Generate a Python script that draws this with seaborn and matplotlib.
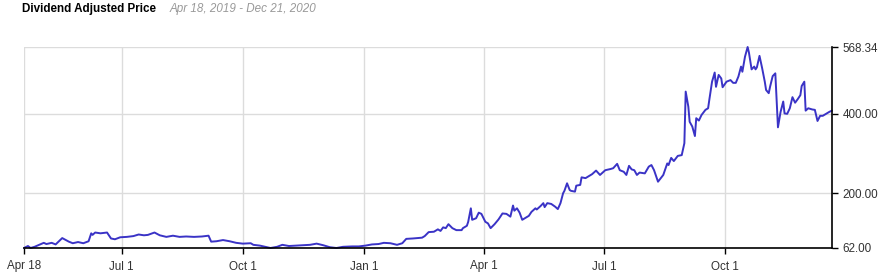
import matplotlib
matplotlib.use("Agg")
import matplotlib.pyplot as plt
import seaborn as sns
import pandas as pd
import numpy as np

# days since Apr 18, 2019 and the dividend adjusted price
days = [0, 3, 5, 8, 15, 17, 21, 24, 29, 34, 37, 41, 45, 49, 51, 52, 54, 58, 63, 66, 69, 73, 78, 83, 87, 91, 94, 99,
        103, 108, 113, 118, 123, 129, 135, 140, 142, 146, 151, 156, 161, 166, 172, 174, 179, 187, 192, 196, 201, 206,
        212, 217, 222, 227, 232, 237, 242, 249, 254, 259, 264, 269, 273, 278, 283, 287, 290, 295, 302, 304, 307, 311,
        314, 316, 318, 320, 322, 325, 328, 332, 333, 336, 337, 339, 340, 343, 345, 347, 350, 352, 354, 357, 360, 363,
        366, 369, 371, 372, 374, 376, 378, 383, 385, 388, 389, 392, 394, 395, 397, 400, 403, 405, 407, 409, 410, 412,
        414, 415, 418, 419, 422, 423, 426, 429, 431, 434, 437, 441, 445, 447, 450, 452, 455, 457, 459, 461, 463, 465,
        467, 471, 474, 476, 478, 481, 485, 488, 489, 491, 493, 496, 499, 501, 502, 504, 505, 507, 509, 510, 512, 514,
        517, 519, 520, 522, 524, 525, 527, 529, 530, 533, 536, 538, 540, 542, 544, 545, 547, 549, 550, 552, 554, 555,
        556, 558, 560, 562, 563, 565, 566, 568, 570, 571, 572, 574, 576, 577, 579, 581, 583, 585, 587, 589, 590, 592,
        593, 595, 598, 600, 602, 604, 606, 609, 611, 613]
prices = [62, 67, 62, 65, 75, 72, 75, 71, 87, 78, 74, 77, 74, 79, 99, 95, 101, 99, 101, 86, 84, 89, 90, 92, 96, 94, 95, 101,
          94, 90, 93, 90, 91, 90, 91, 93, 78, 79, 82, 79, 75, 73, 74, 70, 68, 62, 65, 70, 67, 68,
          69, 70, 73, 69, 64, 62, 65, 66, 66, 68, 71, 72, 75, 74, 70, 74, 85, 86, 88, 92, 102, 103,
          109, 105, 114, 112, 122, 112, 107, 107, 112, 118, 128, 162, 133, 137, 151, 148, 128, 124, 112, 122, 134, 149,
          148, 141, 169, 156, 162, 151, 133, 143, 153, 162, 159, 168, 175, 165, 175, 173, 166, 160, 175, 200, 206, 225,
          208, 206, 204, 219, 221, 240, 238, 244, 248, 257, 246, 258, 261, 263, 274, 258, 254, 246, 269, 260, 258, 246,
          252, 250, 267, 271, 258, 229, 246, 275, 271, 289, 281, 294, 296, 326, 456, 418, 380, 368, 344, 389, 383, 397,
          410, 414, 437, 481, 504, 468, 498, 489, 467, 481, 485, 478, 478, 494, 519, 506, 544, 568.34, 554, 512, 519, 512,
          517, 546, 515, 481, 460, 452, 468, 495, 502, 435, 366, 405, 431, 401, 400, 414, 442, 428, 437, 447, 470, 481,
          408, 414, 411, 410, 382, 395, 395, 401, 405, 408]

start_date = "2019-04-18"
end_date = "2020-12-21"
x_tick_dates = ["2019-04-18", "2019-07-01", "2019-10-01", "2020-01-01", "2020-04-01", "2020-07-01", "2020-10-01"]
x_tick_labels = ["Apr 18", "Jul 1", "Oct 1", "Jan 1", "Apr 1", "Jul 1", "Oct 1"]
y_ticks = [62, 200, 400, 568.34]
y_tick_labels = ["62.00", "200.00", "400.00", "568.34"]
title = "Dividend Adjusted Price"
subtitle = "Apr 18, 2019 - Dec 21, 2020"

df = pd.DataFrame({
    "date": pd.to_datetime(start_date) + pd.to_timedelta(days, unit="D"),
    "price": prices,
})

sns.set_style("white")
plt.rcParams["font.family"] = ["Liberation Sans", "DejaVu Sans"]

fig = plt.figure(figsize=(8.89, 2.8), dpi=100)
ax = fig.add_axes([24 / 889, 1 - 248 / 280, (832 - 24) / 889, (248 - 47) / 280])

sns.lineplot(data=df, x="date", y="price", ax=ax, color="#3a33c6", linewidth=1.4, clip_on=False)

ax.set_xlim(pd.to_datetime(start_date), pd.to_datetime(end_date))
ax.set_ylim(y_ticks[0], y_ticks[-1])

ax.set_xticks(pd.to_datetime(x_tick_dates))
ax.set_xticklabels(x_tick_labels)
ax.yaxis.tick_right()
ax.set_yticks(y_ticks)
ax.set_yticklabels(y_tick_labels)
ax.set_xlabel("")
ax.set_ylabel("")

ax.grid(True, color="#dcdcdc", linewidth=1)
ax.set_axisbelow(True)
for s in ["left", "top"]:
    ax.spines[s].set_visible(False)
for s in ["right", "bottom"]:
    ax.spines[s].set_visible(True)
    ax.spines[s].set_color("black")
    ax.spines[s].set_linewidth(1.2)

ax.tick_params(axis="both", which="major", length=4, width=1, color="black",
               labelsize=8.4, labelcolor="#333333", direction="out")
ax.tick_params(axis="x", pad=5, bottom=True)
ax.tick_params(axis="y", pad=3.5, right=True, left=False)

fig.text(22 / 889, 1 - 9 / 280, title, fontsize=8.4, fontweight="bold", color="black", va="center", ha="left")
fig.text(170 / 889, 1 - 9 / 280, subtitle, fontsize=8.4, style="italic", color="#999999", va="center", ha="left")

fig.savefig("out.png", dpi=100)
